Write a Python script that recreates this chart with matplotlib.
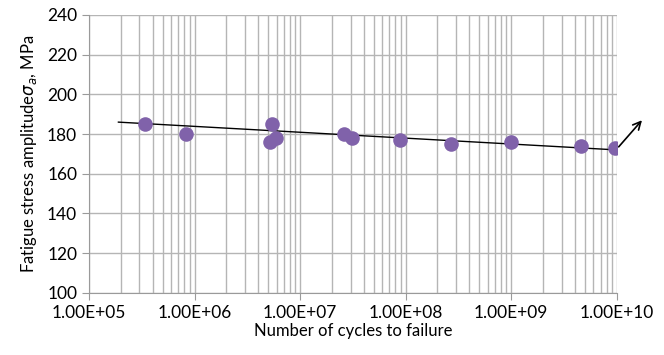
import matplotlib.pyplot as plt
from matplotlib.ticker import LogLocator, NullFormatter, FixedLocator

plt.rcParams['font.family'] = ['Lato', 'DejaVu Sans']

# fatigue test data
cycles = [3.4e5, 8.3e5, 5.4e6, 5.2e6, 5.9e6, 2.6e7, 3.1e7, 8.8e7, 2.7e8, 1.0e9, 4.6e9, 9.6e9]
stress = [185, 180, 185, 176, 178, 180, 178, 177, 175, 176, 174, 173]

# trend line end points
trend_n = [1.9e5, 1.0e10]
trend_s = [186, 172]

# run-out arrow
arrow_from = (1.0e10, 172.5)
arrow_to = (1.8e10, 188)

xticks = [1e5, 1e6, 1e7, 1e8, 1e9, 1e10]
xtick_labels = ["1.00E+05", "1.00E+06", "1.00E+07", "1.00E+08", "1.00E+09", "1.00E+10"]
yticks = [100, 120, 140, 160, 180, 200, 220, 240]

fig = plt.figure(figsize=(6.64, 3.55), dpi=100)
ax = fig.add_axes([0.134, 0.175, 0.795, 0.783])

ax.set_xscale('log')
ax.set_xlim(1e5, 1e10)
ax.set_ylim(100, 240)

grid_col = '#b5b5b5'
ax.xaxis.set_major_locator(FixedLocator(xticks))
ax.set_xticklabels(xtick_labels)
ax.xaxis.set_minor_locator(LogLocator(base=10, subs=range(2, 10)))
ax.xaxis.set_minor_formatter(NullFormatter())
ax.set_yticks(yticks)
ax.grid(which='both', axis='x', color=grid_col, lw=1)
ax.grid(which='major', axis='y', color=grid_col, lw=1)
ax.set_axisbelow(True)

for s in ['top', 'right']:
    ax.spines[s].set_visible(False)
for s in ['left', 'bottom']:
    ax.spines[s].set_color('#9a9a9a')
ax.tick_params(which='major', length=5, color='#9a9a9a', labelsize=12.5)
ax.tick_params(which='minor', length=0)

ax.plot(trend_n, trend_s, color='black', lw=1, zorder=3)
ax.plot(cycles, stress, 'o', color='#8062aa', markersize=10.5, mec='none', zorder=4)

ax.annotate('', xy=arrow_to, xytext=arrow_from,
            arrowprops=dict(arrowstyle='->', color='black', lw=1.2, mutation_scale=14),
            annotation_clip=False)

ax.set_xlabel("Number of cycles to failure", fontsize=12, labelpad=2)
ax.set_ylabel("Fatigue stress amplitude$\\sigma_a$, MPa", fontsize=12, labelpad=6)

fig.savefig("out.png", dpi=100)
